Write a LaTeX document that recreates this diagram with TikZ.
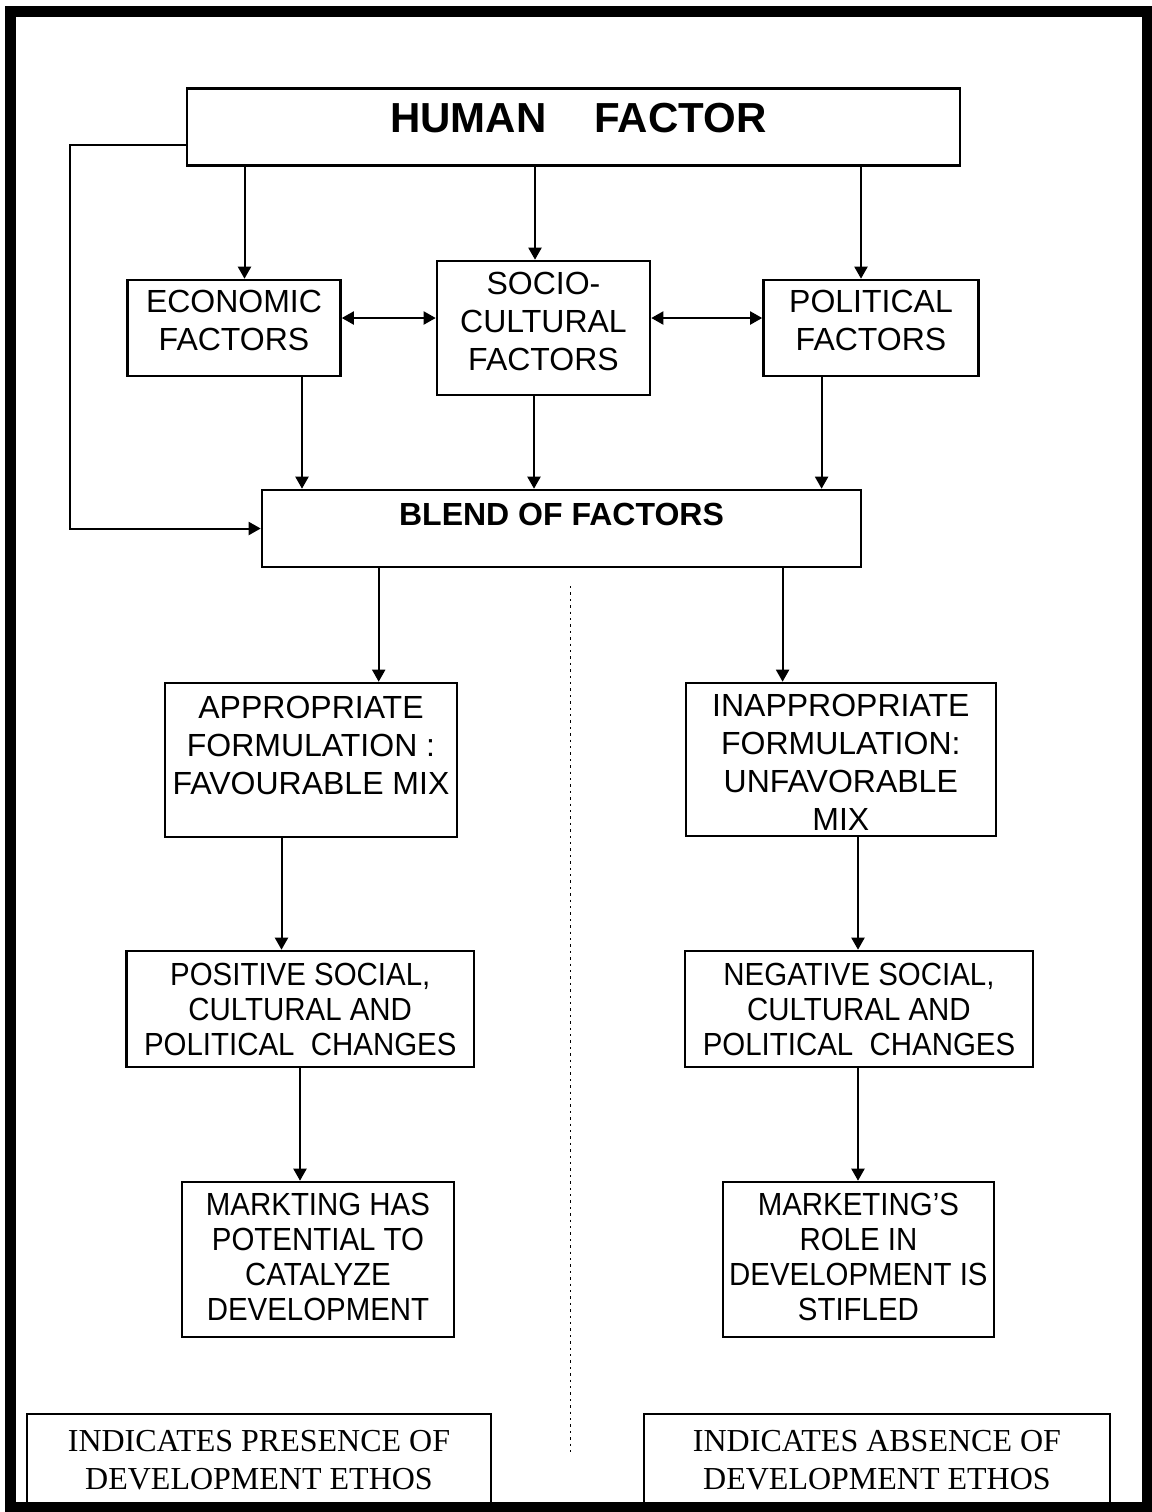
\documentclass[tikz,border=0pt]{standalone}
\usepackage{fontspec}
\setmainfont{Liberation Sans}
\newfontfamily\serifface{Liberation Serif}
\newfontfamily\narrowface[FakeStretch=0.92]{Liberation Sans}
\usetikzlibrary{arrows.meta}
\newdimen\pxu \pxu=0.5pt
\newcommand\bxt[4]{\parbox[c][#2\pxu][c]{#1\pxu}{\centering #4\par\vspace{#3\pxu}}}
\tikzset{
  bx/.style={draw, line width=1.3pt, inner sep=0pt, rectangle},
  mid/.style={font=\fontsize{16}{19}\selectfont},
  nar/.style={font=\narrowface\fontsize{16}{17.5}\selectfont},
  ser/.style={font=\serifface\fontsize{16}{19}\selectfont},
  arr/.style={line width=1pt, -{Triangle[length=6pt,width=6.5pt]}},
  darr/.style={line width=1pt, {Triangle[length=6pt,width=6.5pt]}-{Triangle[length=6pt,width=6.5pt]}},
  frame/.style={line width=5.5pt},
  divider/.style={line width=0.7pt, dash pattern=on 1.2pt off 2pt}
}
\begin{document}
\begin{tikzpicture}[x=0.5pt,y=-0.5pt]
\useasboundingbox (0,0) rectangle (1152,1512);
\draw[frame] (10,11) rectangle (1147.5,1507.5);

\node[bx, font=\bfseries\fontsize{21}{25}\selectfont] (human) at (573.4,126.7)
  {\bxt{773}{77}{18}{\hspace*{10\pxu}HUMAN\hspace{24pt}FACTOR}};
\node[bx, mid] (econ) at (234,328) {\bxt{213}{96}{15}{ECONOMIC\\FACTORS}};
\node[bx, mid] (socio) at (543.5,328) {\bxt{213}{134}{13}{SOCIO-\\CULTURAL\\FACTORS}};
\node[bx, mid] (pol) at (871,328) {\bxt{215}{96}{16}{POLITICAL\\FACTORS}};
\node[bx, font=\bfseries\fontsize{16}{19}\selectfont] (blend) at (561.5,528.5)
  {\bxt{599}{77}{29}{BLEND OF FACTORS}};
\node[bx, mid] (approp) at (311,760)
  {\bxt{292}{154}{30}{APPROPRIATE\\FORMULATION :\\FAVOURABLE MIX}};
\node[bx, mid] (inapprop) at (840.8,759.5)
  {\bxt{310}{153}{-6}{INAPPROPRIATE\\FORMULATION:\\UNFAVORABLE\\MIX}};
\node[bx, nar] (pos) at (300.25,1009)
  {\bxt{347.5}{116}{0}{POSITIVE SOCIAL,\\CULTURAL AND\\POLITICAL\ \ CHANGES}};
\node[bx, nar] (neg) at (859,1009)
  {\bxt{348}{116}{0}{NEGATIVE SOCIAL,\\CULTURAL AND\\POLITICAL\ \ CHANGES}};
\node[bx, nar] (mark) at (318,1259.5)
  {\bxt{272}{155}{5}{MARKTING HAS\\POTENTIAL TO\\CATALYZE\\DEVELOPMENT}};
\node[bx, nar] (mark2) at (858.4,1259.5)
  {\bxt{271}{155}{5}{MARKETING’S\\ROLE IN\\DEVELOPMENT IS\\STIFLED}};
\node[bx, ser] (ind1) at (259,1460)
  {\bxt{464}{92}{0}{INDICATES PRESENCE OF\\DEVELOPMENT ETHOS}};
\node[bx, ser] (ind2) at (877,1460)
  {\bxt{466}{92}{0}{INDICATES ABSENCE OF\\DEVELOPMENT ETHOS}};

% connector x positions
\coordinate (xa) at (244.5,0);
\coordinate (xb) at (535,0);
\coordinate (xc) at (861,0);
\coordinate (xd) at (302,0);
\coordinate (xe) at (534,0);
\coordinate (xf) at (821.6,0);
\coordinate (xg) at (378.7,0);
\coordinate (xh) at (782.6,0);
\coordinate (xi) at (281.5,0);
\coordinate (xj) at (858,0);
\coordinate (xk) at (300,0);
\coordinate (xl) at (858,0);
\coordinate (ym) at (0,318);
\coordinate (fb) at (70,145);
\coordinate (d1) at (570.5,586);
\coordinate (d2) at (570.5,1452);

\draw[arr] (human.south -| xa) -- (econ.north -| xa);
\draw[arr] (human.south -| xb) -- (socio.north -| xb);
\draw[arr] (human.south -| xc) -- (pol.north -| xc);
\draw[darr] (econ.east |- ym) -- (socio.west |- ym);
\draw[darr] (socio.east |- ym) -- (pol.west |- ym);
\draw[arr] (econ.south -| xd) -- (blend.north -| xd);
\draw[arr] (socio.south -| xe) -- (blend.north -| xe);
\draw[arr] (pol.south -| xf) -- (blend.north -| xf);
\draw[arr] (human.west |- fb) -- (fb) |- (blend.west);
\draw[arr] (blend.south -| xg) -- (approp.north -| xg);
\draw[arr] (blend.south -| xh) -- (inapprop.north -| xh);
\draw[arr] (approp.south -| xi) -- (pos.north -| xi);
\draw[arr] (inapprop.south -| xj) -- (neg.north -| xj);
\draw[arr] (pos.south -| xk) -- (mark.north -| xk);
\draw[arr] (neg.south -| xl) -- (mark2.north -| xl);
\draw[divider] (d1) -- (d2);
\end{tikzpicture}
\end{document}
